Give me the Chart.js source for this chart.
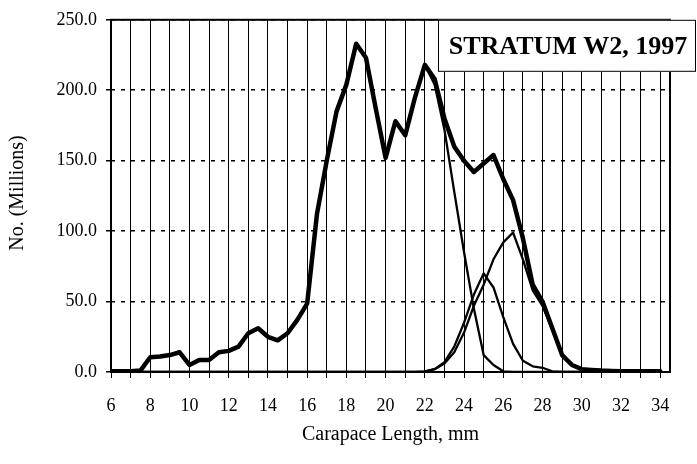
<!DOCTYPE html>
<html>
<head>
<meta charset="utf-8">
<script src="https://cdn.jsdelivr.net/npm/chart.js@4.4.1/dist/chart.umd.min.js"></script>
<style>
  html, body { margin: 0; padding: 0; background: #fff; }
</style>
</head>
<body>
<canvas id="chart" width="697" height="464"></canvas>
<script>
// carapace length classes (mm)
const lengths = [6, 6.5, 7, 7.5, 8, 8.5, 9, 9.5, 10, 10.5, 11, 11.5, 12, 12.5, 13, 13.5,
  14, 14.5, 15, 15.5, 16, 16.5, 17, 17.5, 18, 18.5, 19, 19.5, 20, 20.5, 21, 21.5,
  22, 22.5, 23, 23.5, 24, 24.5, 25, 25.5, 26, 26.5, 27, 27.5, 28, 28.5, 29, 29.5,
  30, 30.5, 31, 31.5, 32, 32.5, 33, 33.5, 34];

// numbers (millions) - total and the three fitted components
const totalNumbers = [0.5, 0.5, 0.5, 1, 10.5, 11, 12, 14, 5, 8.5, 8.5, 14, 15, 18, 27.5, 31,
  25, 22.5, 27.5, 37, 48.5, 112, 150, 185, 204, 233, 223, 187, 152, 178, 168, 195,
  218, 208, 180, 160, 150, 142, 148, 154, 137, 122, 95, 62, 50, 31, 12, 5,
  2, 1.5, 1, 0.7, 0.5, 0.5, 0.5, 0.5, 0.5];
const comp1 = [0.5, 0.5, 0.5, 1, 10.5, 11, 12, 14, 5, 8.5, 8.5, 14, 15, 18, 27.5, 31,
  25, 22.5, 27.5, 37, 48.5, 112, 150, 185, 204, 233, 223, 187, 152, 178, 168, 195,
  218, 204, 172, 128, 85, 45, 12, 5, 0.5, 0, 0, 0, 0, 0, 0, 0,
  0, 0, 0, 0, 0, 0, 0, 0, 0];
const comp2 = [0, 0, 0, 0, 0, 0, 0, 0, 0, 0, 0, 0, 0, 0, 0, 0,
  0, 0, 0, 0, 0, 0, 0, 0, 0, 0, 0, 0, 0, 0, 0, 0,
  0.5, 2, 7, 18, 35, 55, 70, 60, 39, 20, 8, 4, 3, 0.5, 0, 0,
  0, 0, 0, 0, 0, 0, 0, 0, 0];
const comp3 = [0, 0, 0, 0, 0, 0, 0, 0, 0, 0, 0, 0, 0, 0, 0, 0,
  0, 0, 0, 0, 0, 0, 0, 0, 0, 0, 0, 0, 0, 0, 0, 0,
  0.3, 2, 6, 14, 28, 47, 62, 80, 92, 99, 80, 58, 47, 30, 12, 5,
  2, 1, 0.5, 0, 0, 0, 0, 0, 0];

const xGridMarks = [6, 7, 8, 9, 10, 11, 12, 13, 14, 15, 16, 17, 18, 19, 20, 21, 22, 23, 24, 25,
  26, 27, 28, 29, 30, 31, 32, 33, 34];
const yTicks = [0, 50, 100, 150, 200, 250];
const chartTitle = "STRATUM W2, 1997";
const xTitle = "Carapace Length, mm";
const yTitle = "No. (Millions)";

const serif = "'Liberation Serif', 'Times New Roman', serif";

function pts(vals) {
  return lengths.map((x, i) => ({ x: x, y: vals[i] }));
}

const extras = {
  id: 'extras',
  afterDatasetsDraw(chart) {
    const { ctx, chartArea: a } = chart;
    ctx.save();
    // plot frame
    ctx.strokeStyle = '#000';
    ctx.lineWidth = 2;
    ctx.strokeRect(a.left, a.top, a.right - a.left, a.bottom - a.top);
    // title box
    const bx = 438, by = a.top, bw = 258, bh = 52;
    ctx.fillStyle = '#fff';
    ctx.fillRect(bx, by, bw, bh);
    ctx.lineWidth = 1;
    ctx.strokeRect(bx + 0.5, by + 0.5, bw - 1, bh - 1);
    ctx.fillStyle = '#000';
    ctx.font = "bold 26px " + serif;
    ctx.textAlign = 'center';
    ctx.textBaseline = 'middle';
    ctx.fillText(chartTitle, bx + bw / 2 + 1, by + bh / 2 + 1);
    // y axis title
    ctx.translate(18, 193);
    ctx.rotate(-Math.PI / 2);
    ctx.font = "20px " + serif;
    ctx.fillText(yTitle, 0, 0);
    ctx.restore();
  }
};

new Chart(document.getElementById('chart'), {
  type: 'line',
  data: {
    datasets: [
      { data: pts(totalNumbers), borderColor: '#000', borderWidth: 4.5 },
      { data: pts(comp1), borderColor: '#000', borderWidth: 2.3 },
      { data: pts(comp2), borderColor: '#000', borderWidth: 2.3 },
      { data: pts(comp3), borderColor: '#000', borderWidth: 2.3 }
    ]
  },
  options: {
    responsive: false,
    animation: false,
    devicePixelRatio: 1,
    layout: { padding: { top: 18, right: 27, left: 0, bottom: 17 } },
    elements: {
      point: { radius: 0 },
      line: { tension: 0, borderJoinStyle: 'round', borderCapStyle: 'round', fill: false }
    },
    plugins: { legend: { display: false }, tooltip: { enabled: false } },
    scales: {
      x: {
        type: 'linear',
        min: 6,
        max: 34.5,
        afterBuildTicks: s => { s.ticks = xGridMarks.map(v => ({ value: v })); },
        afterFit: s => { s.height = 75; },
        grid: { color: '#000', lineWidth: 1, tickLength: 6, tickColor: '#000' },
        border: { display: false },
        ticks: {
          autoSkip: false,
          maxRotation: 0,
          padding: 17,
          color: '#000',
          font: { family: serif, size: 18 },
          callback: v => (v % 2 === 0 ? String(v) : '')
        },
        title: {
          display: true,
          text: xTitle,
          color: '#000',
          font: { family: serif, size: 20 },
          padding: { top: 0, bottom: 0 }
        }
      },
      y: {
        min: 0,
        max: 250,
        afterBuildTicks: s => { s.ticks = yTicks.map(v => ({ value: v })); },
        afterFit: s => { s.width = 111; },
        grid: { color: '#000', lineWidth: 1.5, tickLength: 5, tickColor: '#000' },
        border: { display: false, dash: [4, 6] },
        ticks: {
          padding: 9,
          color: '#000',
          font: { family: serif, size: 18 },
          callback: v => v.toFixed(1)
        }
      }
    }
  },
  plugins: [extras]
});
</script>
</body>
</html>
